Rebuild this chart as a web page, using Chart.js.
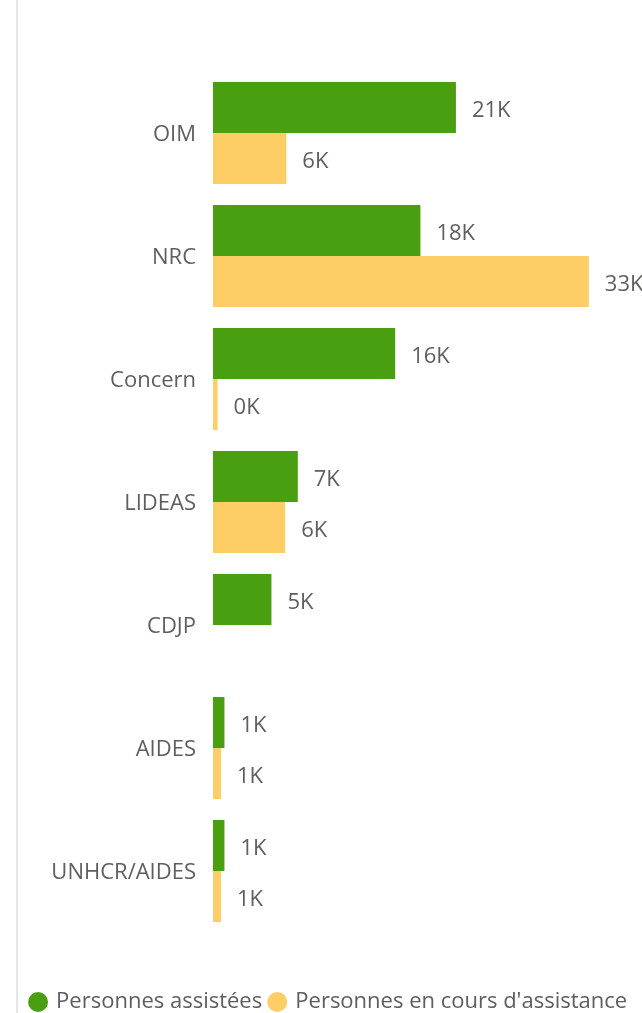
<!DOCTYPE html>
<html>

<head>
  <meta charset="utf-8">
  <title>Personnes assistées par organisation</title>
  <script src="https://cdn.jsdelivr.net/npm/chart.js@4.4.0/dist/chart.umd.min.js"></script>
  <style>
    html,
    body {
      margin: 0;
      padding: 0;
      background: #fff;
      overflow: hidden;
    }

    #wrap {
      position: relative;
      width: 642px;
      height: 1013px;
      overflow: hidden;
    }

    #edge {
      position: absolute;
      left: 16px;
      top: 0;
      width: 2px;
      height: 1013px;
      background: #e6e6e6;
    }

    canvas {
      position: absolute;
      left: 0;
      top: 0;
    }
  </style>
</head>

<body>
  <div id="wrap">
    <div id="edge"></div>
    <!-- wider/taller than the view: the picture is a crop of a bigger visual -->
    <canvas id="chart" width="700" height="1023"></canvas>
  </div>
  <script>
    // values in thousands of people
    var organisations = ['OIM', 'NRC', 'Concern', 'LIDEAS', 'CDJP', 'AIDES', 'UNHCR/AIDES'];
    var assistees = [21.2, 18.1, 15.9, 7.4, 5.1, 1.0, 1.0];
    var enCours = [6.4, 32.8, 0.4, 6.3, null, 0.7, 0.7];

    var textColor = '#605E5C';
    var fontFamily = '"Open Sans", "Noto Sans", sans-serif';

    // labels like "21K" drawn at the end of each bar
    var valueLabels = {
      id: 'valueLabels',
      afterDatasetsDraw: function(chart) {
        var ctx = chart.ctx;
        ctx.save();
        ctx.font = '22px ' + fontFamily;
        ctx.fillStyle = textColor;
        ctx.textAlign = 'left';
        ctx.textBaseline = 'middle';
        chart.data.datasets.forEach(function(ds, i) {
          chart.getDatasetMeta(i).data.forEach(function(bar, j) {
            var v = ds.data[j];
            if (v === null || v === undefined) return;
            ctx.fillText(Math.round(v) + 'K', bar.x + 16, bar.y + 3);
          });
        });
        ctx.restore();
      }
    };

    new Chart(document.getElementById('chart'), {
      type: 'bar',
      data: {
        labels: organisations,
        datasets: [{
          label: 'Personnes assistées',
          data: assistees,
          backgroundColor: '#4A9F10',
          categoryPercentage: 0.83,
          barPercentage: 1
        }, {
          label: "Personnes en cours d'assistance",
          data: enCours,
          backgroundColor: '#FDCD66',
          categoryPercentage: 0.83,
          barPercentage: 1
        }]
      },
      options: {
        indexAxis: 'y',
        responsive: false,
        animation: false,
        layout: {
          padding: { top: 71.5, right: 0, left: 23, bottom: 0 }
        },
        scales: {
          x: {
            min: 0,
            max: 42.5,
            grid: { display: false, drawTicks: false },
            border: { display: false },
            ticks: { display: false },
            afterFit: function(axis) {
              axis.height = 50.5; // empty space between bars and legend
            }
          },
          y: {
            grid: { display: false, drawTicks: false },
            border: { display: false },
            ticks: {
              padding: 17,
              labelOffset: 2,
              color: textColor,
              font: { size: 22, family: fontFamily }
            },
            afterFit: function(axis) {
              axis.width = 190;
            }
          }
        },
        plugins: {
          tooltip: { enabled: false },
          legend: {
            position: 'bottom',
            align: 'start',
            labels: {
              usePointStyle: true,
              pointStyle: 'circle',
              boxWidth: 14.1,
              boxHeight: 14.1,
              padding: 8,
              color: textColor,
              font: { size: 22, family: fontFamily }
            }
          }
        }
      },
      plugins: [valueLabels]
    });
  </script>
</body>

</html>
